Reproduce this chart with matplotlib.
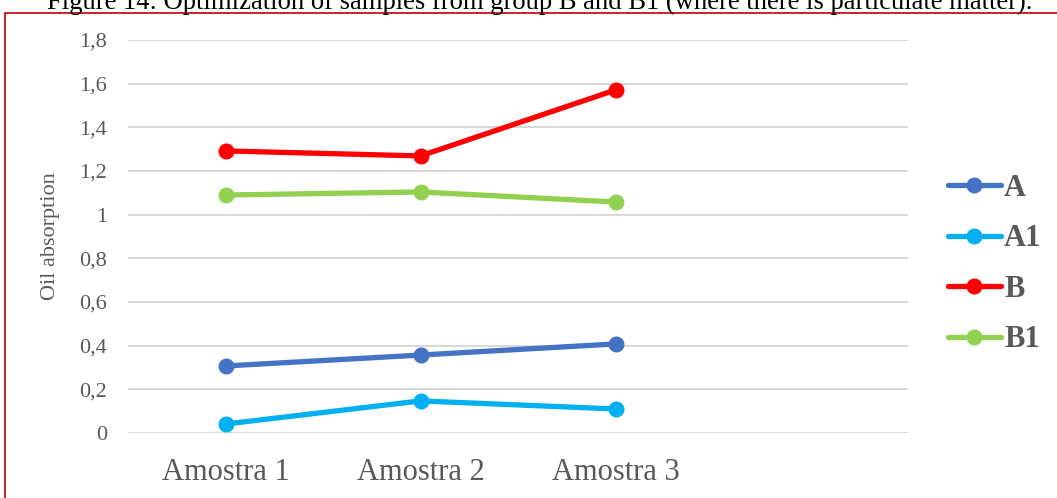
import numpy as np
import matplotlib.pyplot as plt
from matplotlib.patches import Rectangle

categories = ['Amostra 1', 'Amostra 2', 'Amostra 3']
A = [0.307, 0.357, 0.408]
A1 = [0.041, 0.147, 0.110]
B = [1.292, 1.269, 1.571]
B1 = [1.090, 1.104, 1.058]
series = {'A': A, 'A1': A1, 'B': B, 'B1': B1}
colors = {'A': '#4472c4', 'A1': '#00b0f0', 'B': '#ff0000', 'B1': '#92d050'}
yticks = [0, 0.2, 0.4, 0.6, 0.8, 1, 1.2, 1.4, 1.6, 1.8]
ylabels = ['0', '0,2', '0,4', '0,6', '0,8', '1', '1,2', '1,4', '1,6', '1,8']

plt.rcParams['font.family'] = 'Liberation Serif'

W, H = 1057, 498
fig = plt.figure(figsize=(W / 100, H / 100), dpi=100)
ax = fig.add_axes([128 / W, 1 - 433 / H, (908 - 128) / W, (433 - 40) / H])

x = np.arange(len(categories))
for name, vals in series.items():
    ax.plot(x, vals, color=colors[name], lw=3.8, marker='o', ms=10.5,
            solid_capstyle='round', label=name)

ax.set_xlim(-0.5, 3.5)
ax.set_ylim(0, 1.8)
ax.set_yticks(yticks)
ax.set_yticklabels(ylabels, fontsize=16, color='#595959')
ax.set_xticks(x)
ax.set_xticklabels(categories, fontsize=22, color='#595959')
ax.tick_params(length=0)
ax.tick_params(axis='x', pad=18)
ax.tick_params(axis='y', pad=15)
ax.grid(axis='y', color='#d9d9d9', lw=1.5)
ax.set_axisbelow(True)
for s in ax.spines.values():
    s.set_visible(False)
ax.set_ylabel('Oil absorption', fontsize=16, color='#595959', labelpad=14)

leg = ax.legend(loc='upper left', bbox_to_anchor=(1.035, 0.69), frameon=False,
                prop={'size': 22, 'weight': 'bold'}, handlelength=1.75,
                handletextpad=0.1, labelspacing=0.7, borderaxespad=0)
for t in leg.get_texts():
    t.set_color('#595959')

fig.text(0.5104, 1 - 9 / H, 'Figure 14: Optimization of samples from group B and B1 (where there is particulate matter).',
         ha='center', va='baseline', fontsize=19.2, color='black')

fig.patches.append(Rectangle((4.5 / W, -0.1), 1.2, 1 - 13 / H + 0.1, transform=fig.transFigure,
                             fill=False, edgecolor='#c00000', lw=1.2))

fig.savefig('out.png', dpi=100)
